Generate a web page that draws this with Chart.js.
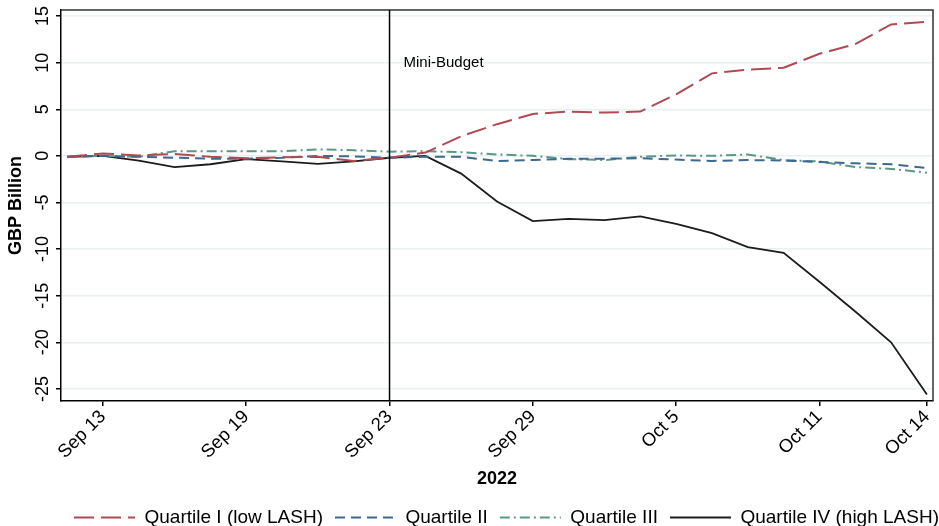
<!DOCTYPE html>
<html>
<head>
<meta charset="utf-8">
<script src="https://cdn.jsdelivr.net/npm/chart.js@4"></script>
<style>
  html, body { margin: 0; padding: 0; background: #fff; }
  #chart { display: block; }
</style>
</head>
<body>
<canvas id="chart" width="939" height="526"></canvas>
<script>
// trading days, Sep 12 - Oct 14 2022
const dateLabels = ['Sep 12', 'Sep 13', 'Sep 14', 'Sep 15', 'Sep 16', 'Sep 19', 'Sep 20', 'Sep 21', 'Sep 22', 'Sep 23',
  'Sep 26', 'Sep 27', 'Sep 28', 'Sep 29', 'Sep 30', 'Oct 3', 'Oct 4', 'Oct 5', 'Oct 6', 'Oct 7',
  'Oct 10', 'Oct 11', 'Oct 12', 'Oct 13', 'Oct 14'];
const tickIdx = [1, 5, 9, 13, 17, 21, 24];
const yTicks = [-25, -20, -15, -10, -5, 0, 5, 10, 15];

const q1 = [-0.1, 0.25, 0.05, 0.2, -0.1, -0.25, -0.15, -0.1, -0.55, -0.2, 0.35, 2.1, 3.4, 4.5, 4.75, 4.65, 4.75, 6.6, 8.85, 9.25, 9.45, 10.95, 12.0, 14.1, 14.4];
const q2 = [-0.1, 0.0, -0.1, -0.2, -0.3, -0.3, -0.2, 0.0, -0.05, -0.2, -0.1, -0.1, -0.55, -0.45, -0.3, -0.3, -0.25, -0.4, -0.55, -0.45, -0.5, -0.65, -0.8, -0.9, -1.3];
const q3 = [-0.1, 0.0, -0.1, 0.5, 0.5, 0.5, 0.5, 0.7, 0.6, 0.45, 0.5, 0.4, 0.15, 0.0, -0.35, -0.45, -0.1, 0.05, 0.0, 0.15, -0.45, -0.6, -1.2, -1.4, -1.8];
const q4 = [-0.1, 0.0, -0.5, -1.2, -0.9, -0.35, -0.6, -0.85, -0.6, -0.2, 0.0, -1.9, -4.9, -7.0, -6.75, -6.9, -6.5, -7.3, -8.3, -9.8, -10.4, -13.5, -16.7, -20.0, -25.6];

const seriesNames = ['Quartile I (low LASH)', 'Quartile II', 'Quartile III', 'Quartile IV (high LASH)'];

const budgetIdx = 9;          // Sep 23
const budgetLabel = 'Mini-Budget';
const budgetLabelY = 10;

const FONT = "'Liberation Sans', Arial, Helvetica, sans-serif";
Chart.defaults.font.family = FONT;
Chart.defaults.color = '#000';

function toPoints(arr) {
  return arr.map((v, i) => ({x: i, y: v}));
}

function makeSet(label, data, color, dash, width) {
  return {
    label: label,
    data: toPoints(data),
    borderColor: color,
    backgroundColor: color,
    borderDash: dash,
    borderWidth: width,
    pointRadius: 0,
    tension: 0,
    fill: false
  };
}

// frame + mini-budget marker
const extras = {
  id: 'extras',
  afterLayout(chart) {
    // legend sits a bit right of centre in the original
    chart.legend.left += 40;
    chart.legend.right += 40;
  },
  afterDatasetsDraw(chart) {
    const {ctx, chartArea, scales} = chart;
    ctx.save();
    ctx.strokeStyle = '#333';
    ctx.lineWidth = 1.5;
    ctx.beginPath();
    ctx.moveTo(chartArea.left, chartArea.top);
    ctx.lineTo(chartArea.right, chartArea.top);
    ctx.lineTo(chartArea.right, chartArea.bottom);
    ctx.stroke();

    const x = scales.x.getPixelForValue(budgetIdx);
    ctx.strokeStyle = '#000';
    ctx.lineWidth = 1.5;
    ctx.beginPath();
    ctx.moveTo(x, chartArea.top);
    ctx.lineTo(x, chartArea.bottom);
    ctx.stroke();

    ctx.fillStyle = '#000';
    ctx.font = '15px ' + FONT;
    ctx.textBaseline = 'middle';
    ctx.textAlign = 'left';
    ctx.fillText(budgetLabel, x + 14, scales.y.getPixelForValue(budgetLabelY));
    ctx.restore();
  }
};

new Chart(document.getElementById('chart'), {
  type: 'line',
  data: {
    datasets: [
      makeSet(seriesNames[0], q1, '#b04a52', [20, 7], 2),
      makeSet(seriesNames[1], q2, '#3d6891', [10, 6], 2),
      makeSet(seriesNames[2], q3, '#5a9886', [10, 4, 2, 4], 2),
      makeSet(seriesNames[3], q4, '#1c1c1c', [], 1.8)
    ]
  },
  options: {
    responsive: false,
    animation: false,
    layout: { padding: { top: 10, right: 6, left: 0, bottom: -11 } },
    plugins: {
      legend: {
        position: 'bottom',
        labels: {
          usePointStyle: true,
          pointStyle: 'line',
          pointStyleWidth: 61,
          font: { size: 19 },
          color: '#000',
          padding: 12,
          generateLabels(chart) {
            const items = Chart.defaults.plugins.legend.labels.generateLabels(chart);
            items.forEach(it => {
              const ds = chart.data.datasets[it.datasetIndex];
              it.lineDash = ds.borderDash;
              it.lineWidth = ds.borderWidth;
              it.strokeStyle = ds.borderColor;
            });
            return items;
          }
        }
      },
      tooltip: { enabled: false }
    },
    scales: {
      x: {
        type: 'linear',
        min: -0.17,
        max: 24.17,
        afterBuildTicks(scale) {
          scale.ticks = tickIdx.map(v => ({value: v}));
        },
        afterFit(scale) {
          scale.height = 95;
          scale.paddingLeft = 0;
          scale.paddingRight = 0;
        },
        ticks: {
          autoSkip: false,
          minRotation: 45,
          maxRotation: 45,
          font: { size: 18.5 },
          padding: 0,
          callback: v => dateLabels[v]
        },
        grid: { drawOnChartArea: false, drawTicks: true, tickLength: 5, color: '#000', lineWidth: 1.5 },
        border: { color: '#000', width: 1.5 },
        title: { display: true, text: '2022', font: { size: 18, weight: 'bold' }, padding: { top: 4, bottom: 6 } }
      },
      y: {
        min: -26.3,
        max: 15.65,
        afterBuildTicks(scale) {
          scale.ticks = yTicks.map(v => ({value: v}));
        },
        afterFit(scale) {
          scale.width = 61;
          scale.paddingTop = 0;
          scale.paddingBottom = 0;
        },
        ticks: {
          minRotation: 90,
          maxRotation: 90,
          crossAlign: 'center',
          font: { size: 18 },
          padding: 0
        },
        grid: { color: '#e8f0f2', lineWidth: 1.5, tickLength: 5, tickColor: '#000', tickWidth: 1.5 },
        border: { color: '#000', width: 1.5 },
        title: { display: true, text: 'GBP Billion', font: { size: 18, weight: 'bold' }, padding: { top: 5, bottom: 0 } }
      }
    }
  },
  plugins: [extras]
});
</script>
</body>
</html>
